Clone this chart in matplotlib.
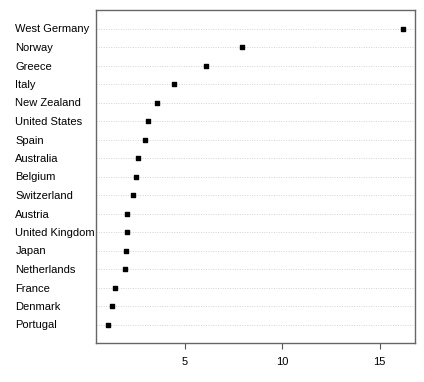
import numpy as np
import matplotlib
matplotlib.use("Agg")
import matplotlib.pyplot as plt

# ----------------------------------------------------------------------
# DATA (top to bottom)
# ----------------------------------------------------------------------
countries = [
    "West Germany", "Norway", "Greece", "Italy", "New Zealand",
    "United States", "Spain", "Australia", "Belgium", "Switzerland",
    "Austria", "United Kingdom", "Japan", "Netherlands", "France",
    "Denmark", "Portugal",
]
values = [
    16.2, 7.92, 6.1, 4.44, 3.56,
    3.1, 2.97, 2.61, 2.49, 2.33,
    2.06, 2.04, 1.99, 1.95, 1.44,
    1.27, 1.06,
]
xticks = [5, 10, 15]

plt.rcParams["font.family"] = ["Liberation Sans", "DejaVu Sans"]

fig = plt.figure(figsize=(4.24, 3.82), dpi=100)
ax = fig.add_axes([96 / 424, 1 - 343 / 382, (415 - 96) / 424, (343 - 10) / 382])

n = len(countries)
ypos = np.arange(n, 0, -1)  # first country at top

# dotted guide lines, R dotchart style
lo, hi = min(values), max(values)
pad = 0.04 * (hi - lo)
ax.set_xlim(lo - pad, hi + pad)
ax.set_ylim(0, n + 1)
ax.hlines(ypos, lo - pad, hi + pad, colors="#d3d3d3",
          linestyles=(0, (1, 1.5)), linewidth=0.7)

ax.scatter(values, ypos, marker="s", s=9, color="black", zorder=3)

ax.set_yticks(ypos)
ax.set_yticklabels(countries, fontsize=8, ha="left")
ax.tick_params(axis="y", length=0, pad=58)

ax.set_xticks(xticks)
ax.set_xticklabels([str(t) for t in xticks], fontsize=8)
ax.tick_params(axis="x", length=4, width=0.8, color="#555555", pad=6)

for s in ax.spines.values():
    s.set_color("#666666")
    s.set_linewidth(1.0)

fig.savefig("out.png", dpi=100)
